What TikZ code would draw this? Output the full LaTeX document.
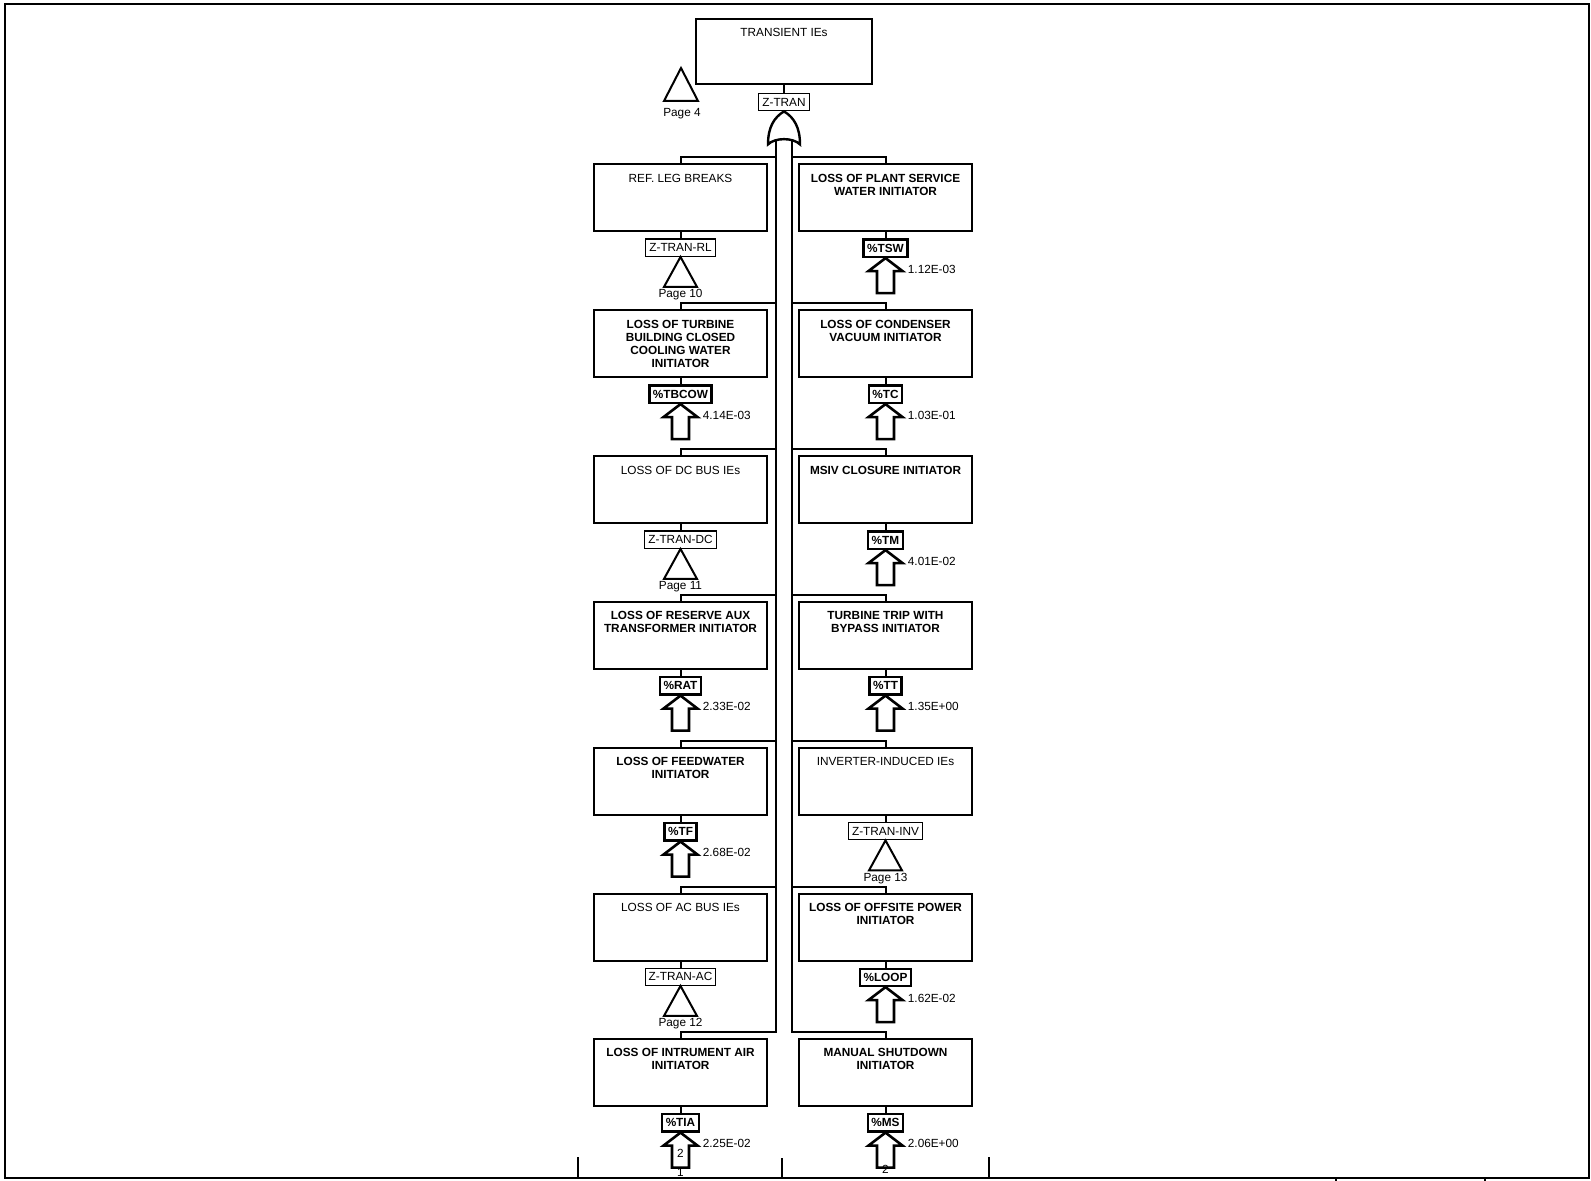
\documentclass[tikz,border=0pt]{standalone}
\usepackage{fontspec}
\setmainfont{Liberation Sans}
\usetikzlibrary{positioning, calc}

\newcommand{\fsz}{\fontsize{5.9}{6.6}\selectfont}
% gate box with its id and a transfer triangle
\newcommand{\gaterow}[6]{%
  \node[gatebox] (#1) at (#2,#3) {};
  \node[gatetxt] (#1txt) at ([yshift=-5pt]#1.north) {#4};
  \node[idbox, below=3pt of #1] (#1id) {#5};
  \draw[wire] (#1.south) -- (#1id.north);
  \draw[xfer] (#1id.south) -- ++(-16.5,30) -- ++(33,0) -- cycle;
  \node[pgtxt] (#1pg) at ($(#1id.south)+(0,38)$) {#6};
}
% initiator box with its id, event arrow and frequency
\newcommand{\eventrow}[6]{%
  \node[gatebox] (#1) at (#2,#3) {};
  \node[evtxt] (#1txt) at ([yshift=-5pt]#1.north) {#4};
  \node[evid, below=3pt of #1] (#1id) {#5};
  \draw[wire] (#1.south) -- (#1id.north);
  \draw[evarrow] (#1id.south) -- ++(-17,13) -- ++(8.5,0) -- ++(0,22) -- ++(17,0) -- ++(0,-22) -- ++(8.5,0) -- cycle;
  \node[valtxt] (#1val) at ($(#1id.south)+(22,11)$) {#6};
}

\tikzset{
  gatebox/.style={draw, line width=1pt, minimum width=86.5pt, minimum height=33.5pt, inner sep=0pt},
  gatetxt/.style={anchor=north, align=center, inner sep=0pt, font=\fsz},
  evtxt/.style={gatetxt, font=\fsz\bfseries},
  idbox/.style={draw, line width=0.6pt, inner xsep=1.8pt, inner ysep=2pt, text height=4.3pt, text depth=0.3pt, font=\fsz},
  evid/.style={idbox, line width=1.2pt, font=\fsz\bfseries},
  wire/.style={line width=1pt},
  xfer/.style={line width=1pt, line join=miter},
  evarrow/.style={line width=1.3pt, line join=miter},
  pgtxt/.style={inner sep=0pt, font=\fsz},
  valtxt/.style={anchor=west, inner sep=0pt, font=\fontsize{5.9}{6.6}\selectfont},
}

\begin{document}
\begin{tikzpicture}[x=0.5pt, y=-0.5pt]
\useasboundingbox (0,0) rectangle (1591,1181);
% sheet frame and ticks
\draw[line width=1pt] (5,4) rectangle (1589,1178);
\draw[line width=0.6pt] (578,1157) -- (578,1178) (989,1157) -- (989,1178)
  (1336,1178) -- (1336,1181) (1485,1178) -- (1485,1181);
\draw[line width=1.3pt] (782,1158) -- (782,1178);

% top event
\node[gatebox, minimum width=88pt, minimum height=32.5pt] (top) at (784,51.5) {};
\node[gatetxt] (toptxt) at ([yshift=-5pt]top.north) {TRANSIENT IEs};
\node[idbox, below=4pt of top] (tran) {Z-TRAN};
\draw[wire] (top.south) -- (tran.north);
\draw[xfer] (681,68) -- (664,101) -- (698,101) -- cycle;
\node[pgtxt] (pg4) at (682,114) {Page 4};

% OR gate
\begin{scope}[shift={(tran.south)}]
\draw[line width=1.2pt] (0,0) .. controls (-10,6) and (-16,16) .. (-16,33)
  .. controls (-9,26) and (9,26) .. (16,33)
  .. controls (16,16) and (10,6) .. (0,0) -- cycle;
\coordinate (busL) at (-8,29);
\coordinate (busR) at (8,29);
\end{scope}

% left column
\gaterow{rl}{680.5}{198}{REF. LEG BREAKS}{Z-TRAN-RL}{Page 10}
\eventrow{tbcow}{680.5}{344}{LOSS OF TURBINE\\BUILDING CLOSED\\COOLING WATER\\INITIATOR}{\%TBCOW}{4.14E-03}
\gaterow{dc}{680.5}{490}{LOSS OF DC BUS IEs}{Z-TRAN-DC}{Page 11}
\eventrow{rat}{680.5}{635.5}{LOSS OF RESERVE AUX\\TRANSFORMER INITIATOR}{\%RAT}{2.33E-02}
\eventrow{tf}{680.5}{781.5}{LOSS OF FEEDWATER\\INITIATOR}{\%TF}{2.68E-02}
\gaterow{ac}{680.5}{927}{LOSS OF AC BUS IEs}{Z-TRAN-AC}{Page 12}
\eventrow{tia}{680.5}{1072.5}{LOSS OF INTRUMENT AIR\\INITIATOR}{\%TIA}{2.25E-02}

% right column
\eventrow{tsw}{885.5}{198}{LOSS OF PLANT SERVICE\\WATER INITIATOR}{\%TSW}{1.12E-03}
\eventrow{tc}{885.5}{344}{LOSS OF CONDENSER\\VACUUM INITIATOR}{\%TC}{1.03E-01}
\eventrow{tm}{885.5}{490}{MSIV CLOSURE INITIATOR}{\%TM}{4.01E-02}
\eventrow{tt}{885.5}{635.5}{TURBINE TRIP WITH\\BYPASS INITIATOR}{\%TT}{1.35E+00}
\gaterow{inv}{885.5}{781.5}{INVERTER-INDUCED IEs}{Z-TRAN-INV}{Page 13}
\eventrow{loop}{885.5}{927}{LOSS OF OFFSITE POWER\\INITIATOR}{\%LOOP}{1.62E-02}
\eventrow{ms}{885.5}{1072.5}{MANUAL SHUTDOWN\\INITIATOR}{\%MS}{2.06E+00}

% page references on the last arrows
\node[pgtxt] (tiain) at ($(tiaid.south)+(0,21)$) {2};
\node[pgtxt] (tiaout) at ($(tiaid.south)+(0,40)$) {1};
\node[pgtxt] (msout) at ($(msid.south)+(0,37)$) {2};

% inputs into the OR gate
\draw[wire] (rl.north) -- ++(0,-6) -| (busL) (tbcow.north) -- ++(0,-6) -| (busL)
  (dc.north) -- ++(0,-6) -| (busL) (rat.north) -- ++(0,-6) -| (busL)
  (tf.north) -- ++(0,-6) -| (busL) (ac.north) -- ++(0,-6) -| (busL)
  (tia.north) -- ++(0,-6) -| (busL);
\draw[wire] (tsw.north) -- ++(0,-6) -| (busR) (tc.north) -- ++(0,-6) -| (busR)
  (tm.north) -- ++(0,-6) -| (busR) (tt.north) -- ++(0,-6) -| (busR)
  (inv.north) -- ++(0,-6) -| (busR) (loop.north) -- ++(0,-6) -| (busR)
  (ms.north) -- ++(0,-6) -| (busR);
\end{tikzpicture}
\end{document}
